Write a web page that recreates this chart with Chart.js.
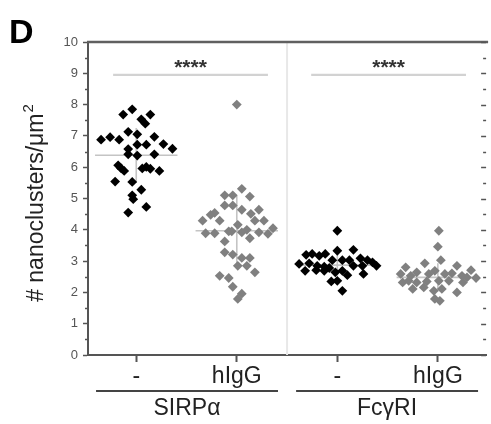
<!DOCTYPE html>
<html><head><meta charset="utf-8">
<script src="https://cdn.jsdelivr.net/npm/chart.js@4"></script>
<style>html,body{margin:0;padding:0;background:#fff;}</style>
</head><body>
<canvas id="c" width="491" height="424"></canvas>
<script>
// ---- data ----
const categories = ['-', 'hIgG', '-', 'hIgG'];
const groupLabels = ['SIRPα', 'FcγRI'];
const panelLabel = 'D';
const yTitle = '# nanoclusters/μm';
const yTitleSup = '2';
const yTickValues = [0, 1, 2, 3, 4, 5, 6, 7, 8, 9, 10];

const sirpaNone = [7.85, 7.68, 7.68, 7.53, 7.39, 7.13, 7.05, 6.88, 6.96, 6.88, 6.97, 6.74, 6.59, 6.72, 6.72, 6.58, 6.41, 6.37, 6.41, 6.06, 5.96, 5.88, 5.96, 6.01, 5.95, 5.88, 5.54, 5.53, 5.28, 5.10, 4.98, 4.73, 4.55];
const sirpaNoneJitter = [-0.04, -0.13, 0.14, 0.05, 0.09, -0.08, 0.01, -0.35, -0.26, -0.17, 0.18, 0.27, 0.36, 0.01, 0.10, -0.08, -0.08, 0.01, 0.18, -0.18, -0.15, -0.12, 0.06, 0.10, 0.14, 0.23, -0.21, -0.04, 0.05, -0.04, -0.03, 0.10, -0.08];

const sirpaHigg = [5.31, 5.10, 5.10, 5.06, 4.78, 4.78, 4.64, 4.64, 4.51, 4.48, 4.54, 4.29, 4.29, 4.29, 4.29, 4.16, 4.05, 3.89, 3.89, 3.95, 3.95, 3.92, 4.00, 3.92, 3.87, 3.73, 3.63, 3.28, 3.21, 3.10, 3.10, 2.85, 2.85, 2.64, 2.53, 2.46, 2.18, 1.96, 1.79, 8.00];
const sirpaHiggJitter = [0.05, -0.12, -0.04, 0.13, -0.12, -0.04, 0.05, 0.22, 0.14, -0.26, -0.22, -0.34, -0.17, 0.18, 0.27, 0.01, 0.36, -0.31, -0.22, -0.08, -0.05, 0.05, 0.10, 0.22, 0.31, 0.13, -0.12, -0.12, -0.04, 0.05, 0.13, 0.01, 0.10, 0.18, -0.17, -0.08, -0.04, 0.05, 0.01, 0.00];

const fcgNone = [3.97, 3.33, 3.36, 3.20, 3.23, 3.17, 3.23, 3.03, 3.03, 3.03, 3.09, 3.03, 2.96, 2.85, 2.91, 2.93, 2.85, 2.82, 2.78, 2.85, 2.85, 2.69, 2.71, 2.69, 2.64, 2.69, 2.55, 2.59, 2.35, 2.37, 2.05];
const fcgNoneJitter = [0.00, 0.00, 0.16, -0.31, -0.25, -0.18, -0.12, -0.05, 0.05, 0.12, 0.23, 0.30, 0.35, 0.39, -0.38, -0.28, -0.20, -0.13, -0.08, 0.16, 0.25, -0.32, -0.21, -0.13, -0.02, 0.05, 0.10, 0.26, -0.06, 0.00, 0.05];

const fcgHigg = [3.97, 3.46, 3.03, 2.93, 2.80, 2.85, 2.71, 2.59, 2.53, 2.64, 2.59, 2.69, 2.59, 2.61, 2.53, 2.48, 2.46, 2.32, 2.37, 2.32, 2.35, 2.37, 2.37, 2.32, 2.11, 2.16, 2.05, 2.11, 2.00, 1.79, 1.73];
const fcgHiggJitter = [0.01, 0.00, 0.03, -0.13, -0.32, 0.19, 0.33, -0.37, -0.27, -0.21, -0.09, -0.03, 0.07, 0.14, 0.24, 0.29, 0.38, -0.35, -0.29, -0.21, -0.11, 0.01, 0.11, 0.25, -0.25, -0.14, -0.04, 0.04, 0.19, -0.03, 0.02];

const means = [6.38, 3.97, 2.87, 2.48];
const sds = [0.87, 1.12, 0.33, 0.45];
const sigLabels = ['****', '****'];
const sigLevel = 8.95;
const sigSpans = [[0.77, 2.31], [2.74, 4.28]];
const groupSpans = [[0.6, 2.41], [2.59, 4.40]];

// ---- build ----
const seriesValues = [sirpaNone, sirpaHigg, fcgNone, fcgHigg];
const seriesJitter = [sirpaNoneJitter, sirpaHiggJitter, fcgNoneJitter, fcgHiggJitter];
const seriesColors = ['#000000', '#808080', '#000000', '#808080'];
const FONT = "'Liberation Sans', Arial, sans-serif";

const datasets = [];
seriesValues.forEach((vals, g) => {
  datasets.push({
    type: 'scatter',
    data: vals.map((v, i) => ({ x: g + 1 + seriesJitter[g][i], y: v })),
    pointStyle: 'rectRot', pointRadius: 4.9, pointBorderWidth: 0,
    backgroundColor: seriesColors[g], borderColor: seriesColors[g],
    order: 1
  });
});
means.forEach((m, g) => {
  datasets.push({
    type: 'line', data: [{ x: g + 1 - 0.41, y: m }, { x: g + 1 + 0.41, y: m }],
    borderColor: '#c4c4c4', borderWidth: 1.6, pointRadius: 0, order: 3
  });
  datasets.push({
    type: 'line', data: [{ x: g + 1, y: m + sds[g] }, { x: g + 1, y: m - sds[g] }],
    borderColor: '#c4c4c4', borderWidth: 1.6, pointRadius: 0, order: 3
  });
});
sigSpans.forEach(s => {
  datasets.push({
    type: 'line', data: [{ x: s[0], y: sigLevel }, { x: s[1], y: sigLevel }],
    borderColor: '#d2d2d2', borderWidth: 2.2, pointRadius: 0, order: 3
  });
});

const deco = {
  id: 'deco',
  beforeDatasetsDraw(chart) {
    const { ctx, chartArea: a, scales: { x } } = chart;
    ctx.save();
    ctx.strokeStyle = '#e8e8e8'; ctx.lineWidth = 2;
    const dx = x.getPixelForValue(2.5);
    ctx.beginPath(); ctx.moveTo(dx, a.top); ctx.lineTo(dx, a.bottom); ctx.stroke();
    ctx.restore();
  },
  afterDraw(chart) {
    const { ctx, chartArea: a, scales: { x, y } } = chart;
    ctx.save();
    // top border
    ctx.strokeStyle = '#606060'; ctx.lineWidth = 2.5;
    ctx.beginPath(); ctx.moveTo(a.left - 1, a.top); ctx.lineTo(a.right + 2, a.top); ctx.stroke();
    // minor left ticks + right ticks
    ctx.strokeStyle = '#555'; ctx.lineWidth = 1.5;
    for (let v = 0; v <= 10; v += 0.5) {
      const py = Math.round(y.getPixelForValue(v)) + 0.5;
      const major = Number.isInteger(v);
      if (!major) { ctx.beginPath(); ctx.moveTo(a.left - 3, py); ctx.lineTo(a.left, py); ctx.stroke(); }
      ctx.beginPath(); ctx.moveTo(a.right, py); ctx.lineTo(a.right - (major ? 5 : 3), py); ctx.stroke();
    }
    // significance stars
    ctx.fillStyle = '#333'; ctx.font = 'bold 21px ' + FONT;
    ctx.textAlign = 'center'; ctx.textBaseline = 'alphabetic';
    sigSpans.forEach((s, i) => {
      ctx.fillText(sigLabels[i], x.getPixelForValue((s[0] + s[1]) / 2), y.getPixelForValue(9.22) + 8);
    });
    // group underline + labels
    ctx.strokeStyle = '#444'; ctx.lineWidth = 2;
    ctx.fillStyle = '#222'; ctx.font = '23px ' + FONT;
    ctx.textBaseline = 'middle';
    groupSpans.forEach((s, i) => {
      const ly = a.bottom + 36;
      ctx.beginPath(); ctx.moveTo(x.getPixelForValue(s[0]), ly); ctx.lineTo(x.getPixelForValue(s[1]), ly); ctx.stroke();
      ctx.fillText(groupLabels[i], x.getPixelForValue((s[0] + s[1]) / 2), a.bottom + 54);
    });
    // y title
    ctx.save();
    ctx.translate(37, (a.top + a.bottom) / 2 + 5);
    ctx.rotate(-Math.PI / 2);
    ctx.font = '23px ' + FONT;
    const w1 = ctx.measureText(yTitle).width;
    ctx.font = '15px ' + FONT;
    const w2 = ctx.measureText(yTitleSup).width;
    const start = -(w1 + w2) / 2;
    ctx.textAlign = 'left'; ctx.textBaseline = 'middle';
    ctx.font = '23px ' + FONT;
    ctx.fillText(yTitle, start, 0);
    ctx.font = '15px ' + FONT;
    ctx.fillText(yTitleSup, start + w1 + 1, -8);
    ctx.restore();
    // panel label
    ctx.fillStyle = '#000'; ctx.font = 'bold 34px ' + FONT;
    ctx.textAlign = 'left'; ctx.textBaseline = 'alphabetic';
    ctx.fillText(panelLabel, 9, 43);
    ctx.restore();
  }
};

new Chart(document.getElementById('c'), {
  data: { datasets },
  options: {
    responsive: false, animation: false, devicePixelRatio: 1,
    layout: { padding: { top: 42, right: 1, left: 0, bottom: 0 } },
    plugins: { legend: { display: false }, tooltip: { enabled: false } },
    scales: {
      x: {
        type: 'linear', min: 0.52, max: 4.48,
        afterBuildTicks: s => { s.ticks = categories.map((c, i) => ({ value: i + 1 })); },
        afterFit: s => { s.height = 69; },
        ticks: {
          callback: v => categories[v - 1], autoSkip: false, maxRotation: 0,
          font: { family: FONT, size: 23 }, color: '#222', padding: 1
        },
        grid: { drawOnChartArea: false, drawTicks: true, tickLength: 7, tickColor: '#555', tickWidth: 2 },
        border: { display: true, color: '#555', width: 2 }
      },
      y: {
        type: 'linear', min: 0, max: 10,
        afterBuildTicks: s => { s.ticks = yTickValues.map(v => ({ value: v })); },
        afterFit: s => { s.width = 88; },
        ticks: { font: { family: FONT, size: 13 }, color: '#555', padding: 5 },
        grid: { drawOnChartArea: false, drawTicks: true, tickLength: 5, tickColor: '#555', tickWidth: 1.5 },
        border: { display: true, color: '#555', width: 2 }
      }
    }
  },
  plugins: [deco]
});
</script>
</body></html>
